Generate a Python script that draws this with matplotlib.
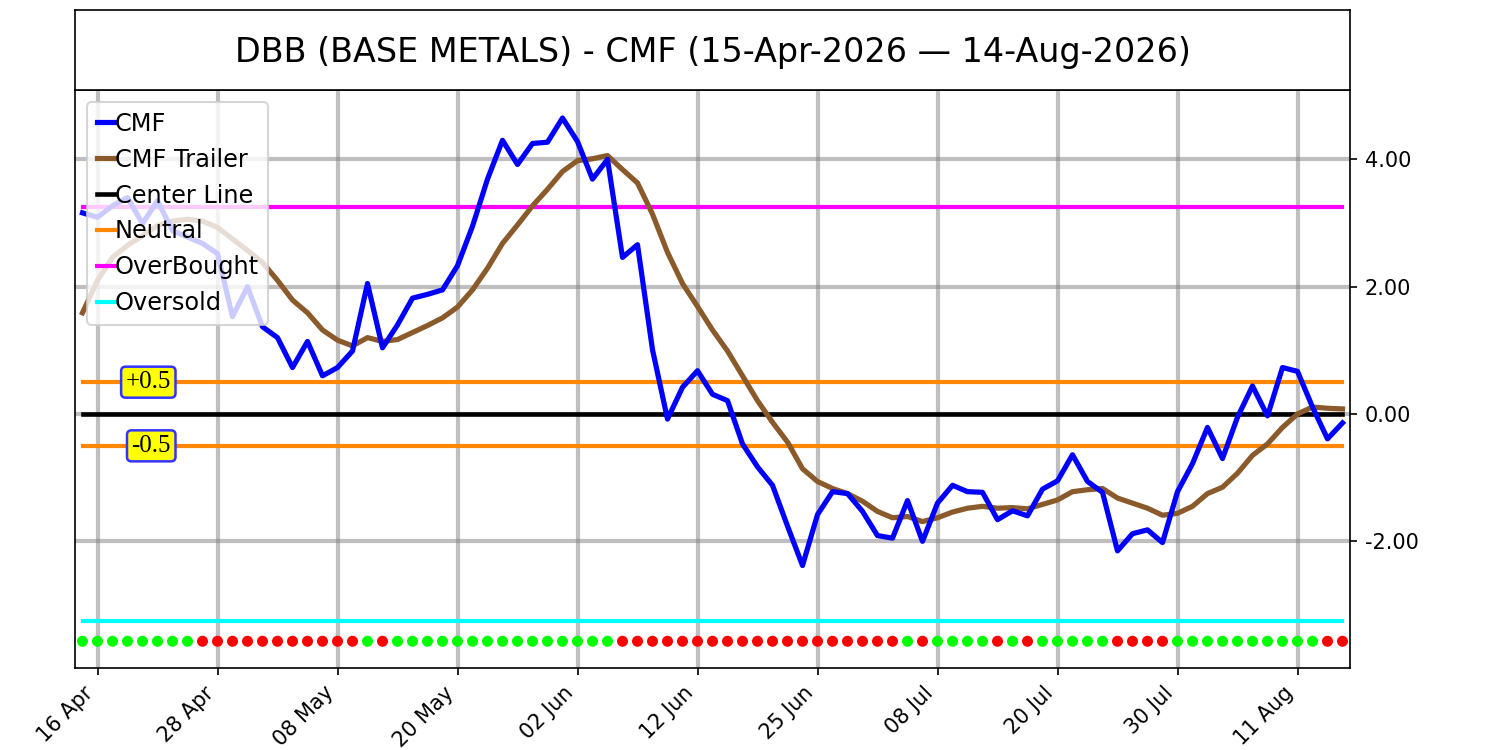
import numpy as np
import pandas as pd
import matplotlib
matplotlib.use('Agg')
import matplotlib.pyplot as plt

title = "DBB (BASE METALS) - CMF (15-Apr-2026 \u2014 14-Aug-2026)"
holidays = ['2026-05-25', '2026-06-19', '2026-07-03']
dates = pd.bdate_range('2026-04-15', '2026-08-14', freq='C', holidays=holidays)

cmf = [3.16, 3.09, 3.27, 3.40, 2.99, 3.35, 2.88, 2.78, 2.68, 2.52,
       1.53, 2.00, 1.37, 1.20, 0.73, 1.14, 0.60, 0.73, 0.99, 2.05,
       1.04, 1.40, 1.82, 1.88, 1.95, 2.33, 2.95, 3.69, 4.30, 3.92,
       4.25, 4.27, 4.65, 4.28, 3.69, 4.00, 2.46, 2.66, 1.01, -0.08,
       0.42, 0.68, 0.31, 0.21, -0.47, -0.83, -1.12, -1.76, -2.38, -1.58,
       -1.22, -1.25, -1.53, -1.91, -1.95, -1.36, -2.00, -1.40, -1.12, -1.22,
       -1.23, -1.66, -1.52, -1.60, -1.18, -1.05, -0.64, -1.06, -1.23, -2.15,
       -1.88, -1.82, -2.02, -1.22, -0.78, -0.21, -0.70, -0.05, 0.44, -0.03,
       0.73, 0.67, 0.11, -0.39, -0.14]

trailer = [1.59, 2.10, 2.46, 2.65, 2.80, 2.96, 3.03, 3.06, 3.03, 2.93,
           2.75, 2.57, 2.38, 2.10, 1.79, 1.59, 1.32, 1.16, 1.07, 1.20,
           1.14, 1.17, 1.28, 1.39, 1.51, 1.68, 1.95, 2.29, 2.68, 2.97,
           3.27, 3.53, 3.81, 3.98, 4.01, 4.06, 3.84, 3.63, 3.14, 2.54,
           2.05, 1.69, 1.32, 0.99, 0.60, 0.21, -0.13, -0.44, -0.86, -1.06,
           -1.17, -1.25, -1.37, -1.53, -1.63, -1.61, -1.69, -1.63, -1.54, -1.48,
           -1.45, -1.48, -1.47, -1.49, -1.42, -1.35, -1.22, -1.19, -1.17, -1.32,
           -1.40, -1.48, -1.59, -1.56, -1.45, -1.25, -1.15, -0.93, -0.65, -0.47,
           -0.21, 0.00, 0.11, 0.09, 0.08]

signals = ("GGGGGGGG" + "RRRRRRRRRRR" + "G" + "R" + "GGGGGGGGGGGGGGG" +
           "RRRRRRRRRRRRRRRRRRR" + "G" + "R" + "GGGG" + "R" + "G" + "R" +
           "GGGGG" + "RRRR" + "GGGGGGGGGG" + "RR")

overbought = 3.25
oversold = -3.25
neutral = 0.5
center = 0.0
signal_level = -3.57

ytick_vals = [-2, 0, 2, 4]
ytick_labels = ["-2.00", "0.00", "2.00", "4.00"]

n = len(cmf)
x = np.arange(n)
tick_idx = list(range(1, n, 8))
tick_labels = [dates[i].strftime('%d %b') for i in tick_idx]

fig = plt.figure(figsize=(10, 5), dpi=150)
ax = fig.add_axes([0.05, 0.10933, 0.85, 0.77067])
tax = fig.add_axes([0.05, 0.88, 0.85, 0.10667])
tax.set_xticks([])
tax.set_yticks([])
tax.text(0.5, 0.47, title, ha='center', va='center', fontsize=16, transform=tax.transAxes)

ax.grid(True, color='gray', alpha=0.5, linewidth=2)
ax.set_axisbelow(True)

ax.plot(x, cmf, color='blue', lw=2.5, label='CMF', zorder=5)
ax.plot(x, trailer, color='#8B5A2B', lw=2.5, label='CMF Trailer', zorder=4)
ax.axhline(center, color='black', lw=2.2, label='Center Line', xmin=0.006, xmax=0.994, zorder=3)
ax.axhline(neutral, color='#FF8800', lw=2, label='Neutral', xmin=0.006, xmax=0.994, zorder=3)
ax.axhline(-neutral, color='#FF8800', lw=2, xmin=0.006, xmax=0.994, zorder=3)
ax.axhline(overbought, color='#FF00FF', lw=2, label='OverBought', xmin=0.006, xmax=0.994, zorder=3)
ax.axhline(oversold, color='#00FFFF', lw=2, label='Oversold', xmin=0.006, xmax=0.994, zorder=3)

cols = ['#00FF00' if s == 'G' else '#FF0000' for s in signals]
ax.scatter(x, [signal_level] * n, c=cols, s=28, zorder=6, linewidths=0)

bbox = dict(boxstyle='round,pad=0.18', facecolor='yellow', edgecolor='#3333FF', lw=1.2)
ax.text(5.9, neutral, '+0.5', ha='right', va='center', fontsize=12,
        family='Liberation Serif', bbox=bbox, zorder=7)
ax.text(5.9, -neutral, '-0.5', ha='right', va='center', fontsize=12,
        family='Liberation Serif', bbox=bbox, zorder=7)

ax.set_xlim(-0.5, n - 0.5)
ax.set_ylim(-3.99, 5.09)
ax.yaxis.tick_right()
ax.set_yticks(ytick_vals)
ax.set_yticklabels(ytick_labels, fontsize=10)
ax.set_xticks(tick_idx)
ax.set_xticklabels(tick_labels, rotation=45, ha='right', fontsize=10)

ax.legend(loc='upper left', fontsize=11.5, handlelength=0.75, handletextpad=0.0,
          borderaxespad=0.5)

fig.savefig('out.png', dpi=150)
